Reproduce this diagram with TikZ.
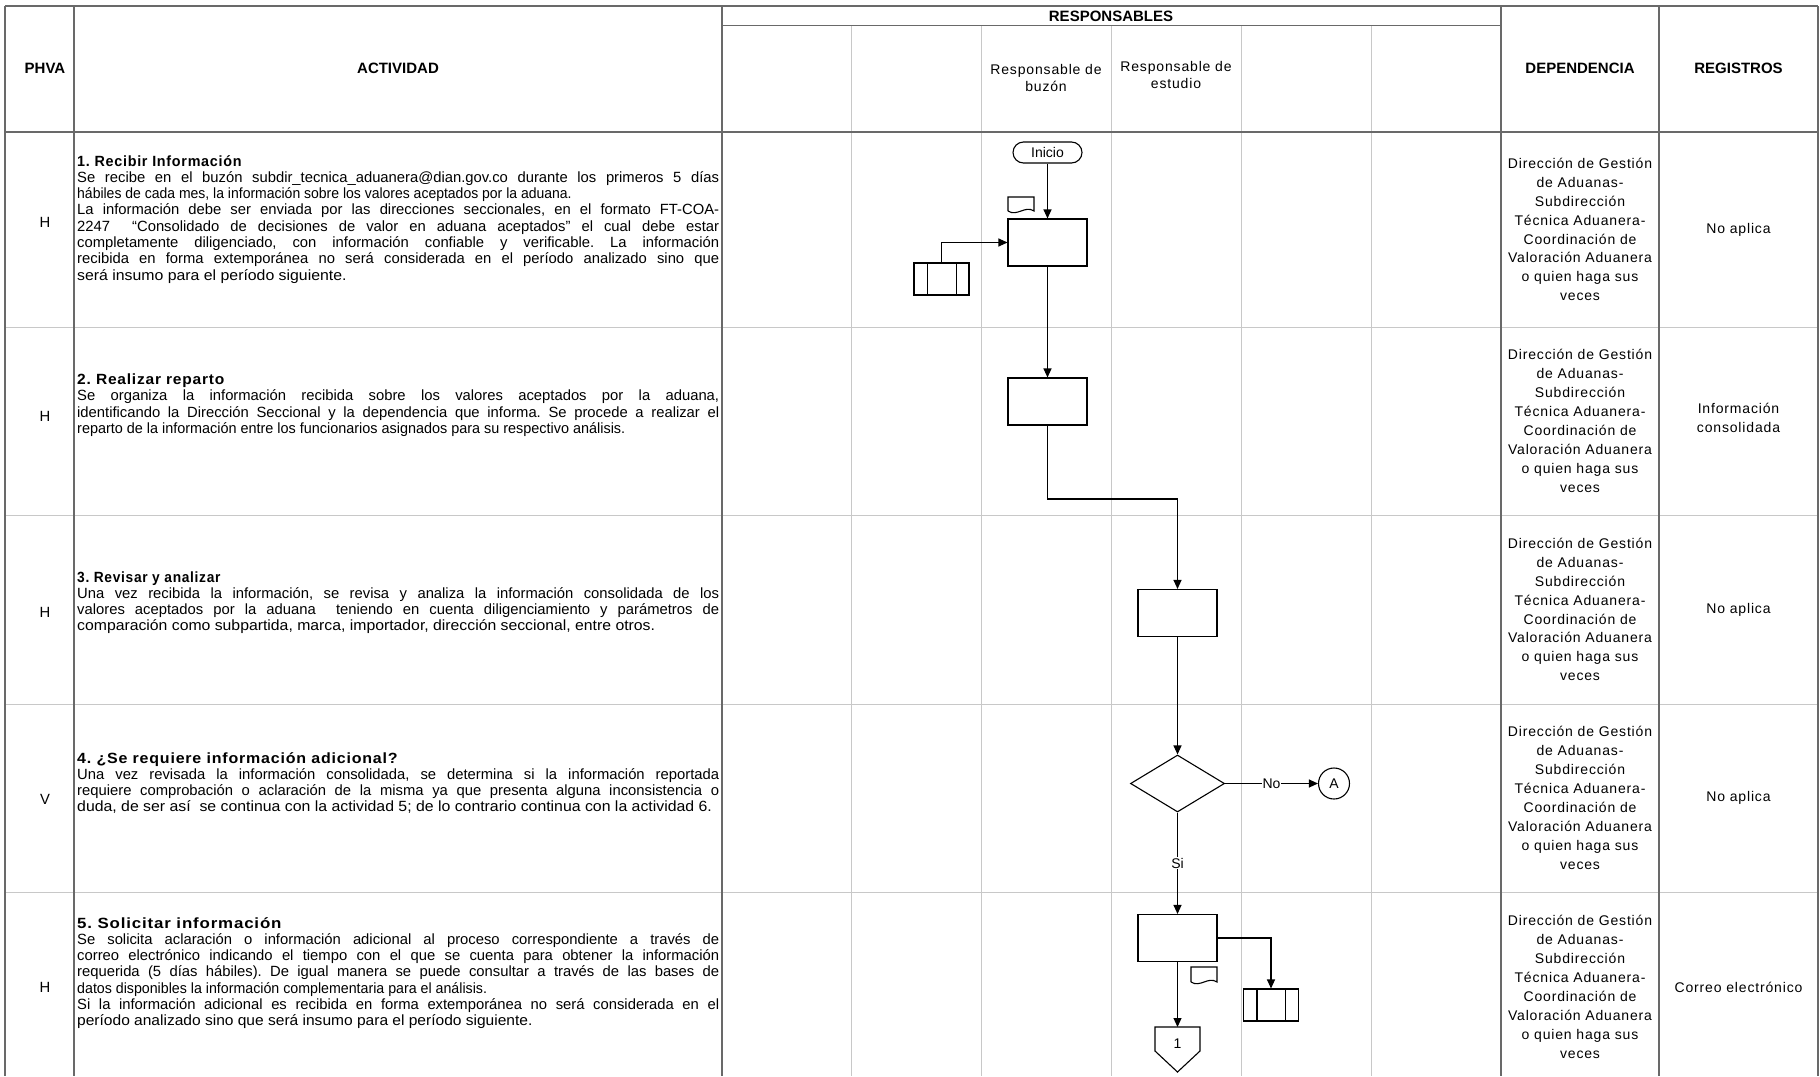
\documentclass[tikz,border=0pt]{standalone}
\usepackage{fontspec}
\usepackage{graphicx}
\setmainfont{Liberation Sans}
\newfontfamily\lsfont[LetterSpace=6]{Liberation Sans}
\newfontfamily\ttlfont[LetterSpace=5]{Liberation Sans}
\usetikzlibrary{arrows.meta,shapes.geometric}
\definecolor{darkline}{RGB}{105,105,105}
\definecolor{lightline}{RGB}{200,200,200}
\newcommand\bodyf{\fontsize{14.8}{16.3}\selectfont\frenchspacing}
\newcommand\depf{\lsfont\fontsize{14}{18.9}\selectfont}
\newcommand\headf{\fontsize{15}{18}\selectfont\bfseries}
\newcommand\jl[1]{{\spaceskip=0pt\xspaceskip=0pt\makebox[642pt][s]{#1}}}
\newcommand\js[2]{\scalebox{#1}[1]{#2}}
\newcommand\ttl[2]{\scalebox{#1}[1]{\ttlfont\bfseries #2}}
\begin{document}
\begin{tikzpicture}[x=1pt,y=1pt,
  dk/.style={draw=darkline,line width=1.4pt},
  lt/.style={draw=lightline,line width=1pt},
  flw/.style={draw=black,line width=1.1pt},
  arr/.style={flw,-{Triangle[length=9pt,width=8pt]}},
  proc/.style={draw=black,line width=1.1pt,rectangle,minimum width=79pt,minimum height=47pt,inner sep=0pt},
  subp/.style={draw=black,line width=1.1pt,rectangle,minimum width=55pt,minimum height=32pt,inner sep=0pt},
  term/.style={draw=black,line width=1.1pt,rectangle,rounded corners=10.5pt,minimum width=69pt,minimum height=21pt,inner sep=0pt,font=\fontsize{14}{16}\selectfont},
  dec/.style={draw=black,line width=1.1pt,diamond,minimum width=94pt,minimum height=57pt,inner sep=0pt},
  conn/.style={draw=black,line width=1.1pt,circle,minimum size=31pt,inner sep=0pt,font=\fontsize{14}{16}\selectfont},
  lbl/.style={fill=white,inner sep=1pt,font=\fontsize{14}{16}\selectfont},
  body/.style={anchor=base west,inner sep=0pt,text width=642pt,align=flush left,font=\bodyf},
  dep/.style={inner sep=0pt,align=center,font=\depf},
  letter/.style={inner sep=0pt,font=\bodyf},
  head/.style={inner sep=0pt,align=center,font=\headf},
  subhead/.style={inner sep=0pt,align=center,font=\lsfont\fontsize{14}{17.4}\selectfont}
]
\useasboundingbox (0,0) rectangle (1820,-1076);
\fill[white] (0,0) rectangle (1820,-1076);

% light grid lines
\foreach \yy in {327,515,704.5,892.5} \draw[lt] (5,-\yy) -- (1818,-\yy);
\foreach \xx in {851,981,1111,1241,1371} \draw[lt] (\xx,-25.5) -- (\xx,-1076);
% dark frame lines
\draw[dk] (5,-6) -- (1818,-6);
\draw[dk] (722,-25.5) -- (1501,-25.5);
\draw[dk] (5,-132) -- (1818,-132);
\foreach \xx in {5,74,722,1501,1659,1818} \draw[dk] (\xx,-6) -- (\xx,-1076);

% header texts
\node[head] (hphva) at (45,-68.5) {PHVA};
\node[head] (hact) at (398,-68.5) {ACTIVIDAD};
\node[head] (hresp) at (1111,-16) {RESPONSABLES};
\node[head] (hdep) at (1580,-68.5) {DEPENDENCIA};
\node[head] (hreg) at (1738.5,-68.5) {REGISTROS};
\node[subhead] (hbuz) at (1046,-78) {Responsable de\\buzón};
\node[subhead] (hest) at (1176,-75) {Responsable de\\estudio};

% PHVA letters
\node[letter] (p1) at (45,-222) {H};
\node[letter] (p2) at (45,-416) {H};
\node[letter] (p3) at (45,-612) {H};
\node[letter] (p4) at (45,-799) {V};
\node[letter] (p5) at (45,-987) {H};

% activity texts
\node[body] (t1) at (77,-166) {\ttl{0.97}{1. Recibir Información}\\
\jl{Se recibe en el buzón subdir\_tecnica\_aduanera@dian.gov.co durante los primeros 5 días}\\
\js{0.945}{hábiles de cada mes, la información sobre los valores aceptados por la aduana.}\\
\jl{La información debe ser enviada por las direcciones seccionales, en el formato FT-COA-}\\
\jl{2247 \ “Consolidado de decisiones de valor en aduana aceptados” el cual debe estar}\\
\jl{completamente diligenciado, con información confiable y verificable. La información}\\
\jl{recibida en forma extemporánea no será considerada en el período analizado sino que}\\
\js{1.07}{será insumo para el período siguiente.}};

\node[body] (t2) at (77,-384.5) {\ttl{1.05}{2. Realizar reparto}\\
\jl{Se organiza la información recibida sobre los valores aceptados por la aduana,}\\
\jl{identificando la Dirección Seccional y la dependencia que informa. Se procede a realizar el}\\
\js{0.974}{reparto de la información entre los funcionarios asignados para su respectivo análisis.}};

\node[body] (t3) at (77,-582) {\ttl{0.93}{3. Revisar y analizar}\\
\jl{Una vez recibida la información, se revisa y analiza la información consolidada de los}\\
\jl{valores aceptados por la aduana \ teniendo en cuenta diligenciamiento y parámetros de}\\
\js{1.066}{comparación como subpartida, marca, importador, dirección seccional, entre otros.}};

\node[body] (t4) at (77,-763) {\ttl{1.08}{4. ¿Se requiere información adicional?}\\
\jl{Una vez revisada la información consolidada, se determina si la información reportada}\\
\jl{requiere comprobación o aclaración de la misma ya que presenta alguna inconsistencia o}\\
\js{1.07}{duda, de ser así \ se continua con la actividad 5; de lo contrario continua con la actividad 6.}};

\node[body] (t5) at (77,-928) {\ttl{1.14}{5. Solicitar información}\\
\jl{Se solicita aclaración o información adicional al proceso correspondiente a través de}\\
\jl{correo electrónico indicando el tiempo con el que se cuenta para obtener la información}\\
\jl{requerida (5 días hábiles). De igual manera se puede consultar a través de las bases de}\\
\js{0.96}{datos disponibles la información complementaria para el análisis.}\\
\jl{Si la información adicional es recibida en forma extemporánea no será considerada en el}\\
\js{1.05}{período analizado sino que será insumo para el período siguiente.}};

% dependencia
\foreach \yy/\nm in {229.5/d1,421/d2,609.5/d3,798/d4t,987/d5}
  \node[dep] (\nm) at (1580,-\yy) {Dirección de Gestión\\de Aduanas-\\Subdirección\\Técnica Aduanera-\\Coordinación de\\Valoración Aduanera\\o quien haga sus\\veces};

% registros
\node[dep] (r1) at (1738.5,-229.5) {No aplica};
\node[dep] (r2) at (1738.5,-418) {Información\\consolidada};
\node[dep] (r3) at (1738.5,-609.5) {No aplica};
\node[dep] (r4) at (1738.5,-798) {No aplica};
\node[dep] (r5) at (1738.5,-987) {Correo electrónico};

% flow shapes
\node[term] (ini) at (1047.5,-152.5) {Inicio};
\node[proc] (b1) at (1047.5,-242.5) {};
\node[subp] (s1) at (941.5,-279) {};
\draw[flw] ([xshift=14pt]s1.north west) -- ([xshift=14pt]s1.south west);
\draw[flw] ([xshift=-13pt]s1.north east) -- ([xshift=-13pt]s1.south east);
\draw[flw] (1008,-211) -- (1008,-197) -- (1034,-197) -- (1034,-211) .. controls (1025,-205) and (1017,-217) .. (1008,-211);

\node[proc] (b2) at (1047.5,-401.5) {};
\node[proc] (b3) at (1177.5,-613) {};
\node[dec] (dd) at (1177.5,-783.5) {};
\node[conn] (ca) at (1334,-783.5) {A};
\node[proc] (b5) at (1177.5,-938) {};
\node[subp] (s5) at (1271,-1005) {};
\draw[flw] ([xshift=14pt]s5.north west) -- ([xshift=14pt]s5.south west);
\draw[flw] ([xshift=-14pt]s5.north east) -- ([xshift=-14pt]s5.south east);
\draw[flw] (1191,-982) -- (1191,-967) -- (1217,-967) -- (1217,-982) .. controls (1208,-976) and (1200,-988) .. (1191,-982);
\draw[flw] (1155,-1027) -- (1200,-1027) -- (1200,-1051) -- (1177.5,-1072) -- (1155,-1051) -- cycle;
\coordinate (op) at (1177.5,-1027);
\node[inner sep=0pt,font=\fontsize{14}{16}\selectfont] (op1) at (1177.5,-1044) {1};

% connectors
\draw[arr] (ini.south) -- (b1.north);
\draw[arr] (s1.north) |- (b1.west);
\draw[arr] (b1.south) -- (b2.north);
\coordinate (k2) at (1047.5,-499);
\draw[arr] (b2.south) -- (k2) -| (b3.north);
\draw[arr] (b3.south) -- (dd.north);
\draw[arr] (dd.east) -- node[lbl]{No} (ca.west);
\draw[arr] (dd.south) -- node[lbl]{Si} (b5.north);
\draw[arr] (b5.east) -| (s5.north);
\draw[arr] (b5.south) -- (op);
\end{tikzpicture}
\end{document}
